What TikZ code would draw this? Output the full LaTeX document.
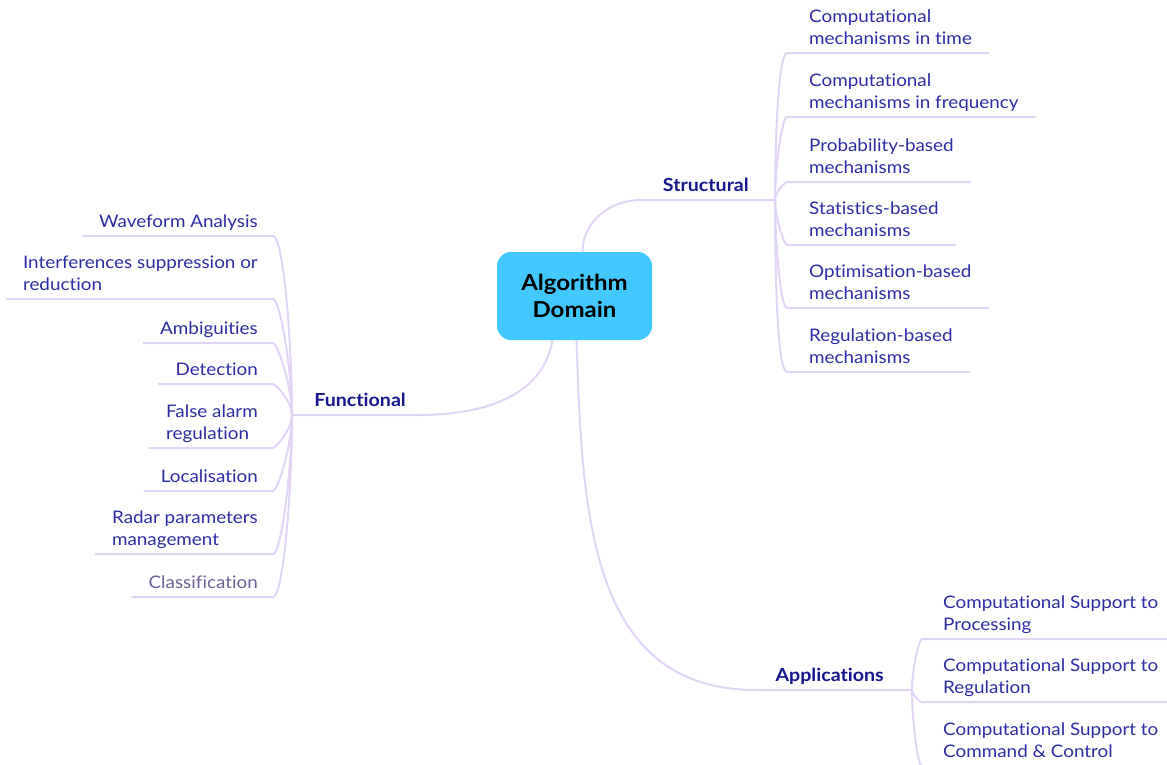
\documentclass[tikz,border=0pt]{standalone}
\usepackage{fontspec}
\setmainfont{Lato}[FakeStretch=1.09,Ligatures=NoCommon]
\usepackage{xcolor}
\definecolor{branch}{HTML}{E2D4F4}
\definecolor{leaftext}{HTML}{2C2CA4}
\definecolor{maintext}{HTML}{15158C}
\definecolor{greytext}{HTML}{6E5E96}
\definecolor{rootfill}{HTML}{40C8FF}

\begin{document}
\begin{tikzpicture}[x=1pt,y=1pt,
  root/.style={fill=rootfill,rounded corners=14pt,minimum width=155pt,minimum height=88pt,align=center,font=\fontsize{22}{27}\selectfont\bfseries},
  lab/.style={text=maintext,font=\fontsize{18}{22}\selectfont\bfseries,inner xsep=0pt,inner ysep=8pt,text depth=0pt},
  rleaf/.style={text=leaftext,font=\fontsize{17.3}{22}\selectfont,align=left,inner xsep=0pt,inner ysep=8pt,text depth=0pt,anchor=south west},
  lleaf/.style={rleaf,anchor=south east},
  limb/.style={draw=branch,line width=2pt}]
\useasboundingbox (0,0) rectangle (1167,-764);
\clip (0,0) rectangle (1167,-764);
\node[root] (root) at (574.5,-296) {Algorithm\\Domain};
\node[lab,anchor=south east] (struct) at (749,-200) {Structural};
\node[lab,anchor=south east] (func) at (406,-415) {Functional};
\node[lab,anchor=south east] (appl) at (884,-690) {Applications};
\coordinate (sfan) at (775,-200);
\coordinate (ffan) at (292,-415);
\coordinate (afan) at (912,-690);

\node[rleaf] (s1) at (809,-53) {Computational\\mechanisms in time};
\node[rleaf] (s2) at (809,-117) {Computational\\mechanisms in frequency};
\node[rleaf] (s3) at (809,-182) {Probability-based\\mechanisms};
\node[rleaf] (s4) at (809,-245) {Statistics-based\\mechanisms};
\node[rleaf] (s5) at (809,-308) {Optimisation-based\\mechanisms};
\node[rleaf] (s6) at (809,-372) {Regulation-based\\mechanisms};

\node[lleaf] (f1) at (258,-236) {Waveform Analysis};
\node[lleaf] (f2) at (258,-299) {Interferences suppression or\\reduction};
\node[lleaf] (f3) at (258,-343) {Ambiguities};
\node[lleaf] (f4) at (258,-384) {Detection};
\node[lleaf] (f5) at (258,-448) {False alarm\\regulation};
\node[lleaf] (f6) at (258,-491) {Localisation};
\node[lleaf] (f7) at (258,-554) {Radar parameters\\management};
\node[lleaf,text=greytext] (f8) at (258,-597) {Classification};

\node[rleaf] (a1) at (943,-639) {Computational Support to\\Processing};
\node[rleaf] (a2) at (943,-702) {Computational Support to\\Regulation};
\node[rleaf] (a3) at (943,-766) {Computational Support to\\Command \& Control};

\draw[limb] ([xshift=8pt]root.north) to[out=90,in=180] ([xshift=-22pt]struct.south west) -- (sfan);
\draw[limb] ([xshift=-22pt]root.south) to[out=-100,in=0] ([xshift=12pt]func.south east) -- (ffan);
\draw[limb] ([xshift=2pt]root.south) to[out=-88,in=180,looseness=1.1] ([xshift=-19pt]appl.south west) -- (afan);

\draw[limb] (sfan) to[out=90,in=180,in looseness=0.15] ([xshift=-22pt]s1.south west) -- ([xshift=17pt]s1.south east);
\draw[limb] (sfan) to[out=90,in=180,in looseness=0.15] ([xshift=-22pt]s2.south west) -- ([xshift=17pt]s2.south east);
\draw[limb] (sfan) to[out=90,in=180,in looseness=0.15] ([xshift=-22pt]s3.south west) -- ([xshift=17pt]s3.south east);
\draw[limb] (sfan) to[out=-90,in=180,in looseness=0.15] ([xshift=-22pt]s4.south west) -- ([xshift=17pt]s4.south east);
\draw[limb] (sfan) to[out=-90,in=180,in looseness=0.15] ([xshift=-22pt]s5.south west) -- ([xshift=17pt]s5.south east);
\draw[limb] (sfan) to[out=-90,in=180,in looseness=0.15] ([xshift=-22pt]s6.south west) -- ([xshift=17pt]s6.south east);

\draw[limb] (ffan) to[out=90,in=0,in looseness=0.15] ([xshift=15pt]f1.south east) -- ([xshift=-17pt]f1.south west);
\draw[limb] (ffan) to[out=90,in=0,in looseness=0.15] ([xshift=15pt]f2.south east) -- ([xshift=-17pt]f2.south west);
\draw[limb] (ffan) to[out=90,in=0,in looseness=0.15] ([xshift=15pt]f3.south east) -- ([xshift=-17pt]f3.south west);
\draw[limb] (ffan) to[out=90,in=0,in looseness=0.15] ([xshift=15pt]f4.south east) -- ([xshift=-17pt]f4.south west);
\draw[limb] (ffan) to[out=-90,in=0,in looseness=0.15] ([xshift=15pt]f5.south east) -- ([xshift=-17pt]f5.south west);
\draw[limb] (ffan) to[out=-90,in=0,in looseness=0.15] ([xshift=15pt]f6.south east) -- ([xshift=-17pt]f6.south west);
\draw[limb] (ffan) to[out=-90,in=0,in looseness=0.15] ([xshift=15pt]f7.south east) -- ([xshift=-17pt]f7.south west);
\draw[limb] (ffan) to[out=-90,in=0,in looseness=0.15] ([xshift=15pt]f8.south east) -- ([xshift=-17pt]f8.south west);

\draw[limb] (afan) to[out=90,in=180,in looseness=0.15] ([xshift=-21pt]a1.south west) -- ++(270,0);
\draw[limb] (afan) to[out=-90,in=180,in looseness=0.15] ([xshift=-21pt]a2.south west) -- ++(270,0);
\draw[limb] (afan) to[out=-90,in=180,in looseness=0.15] ([xshift=-21pt]a3.south west) -- ++(270,0);
\end{tikzpicture}
\end{document}
